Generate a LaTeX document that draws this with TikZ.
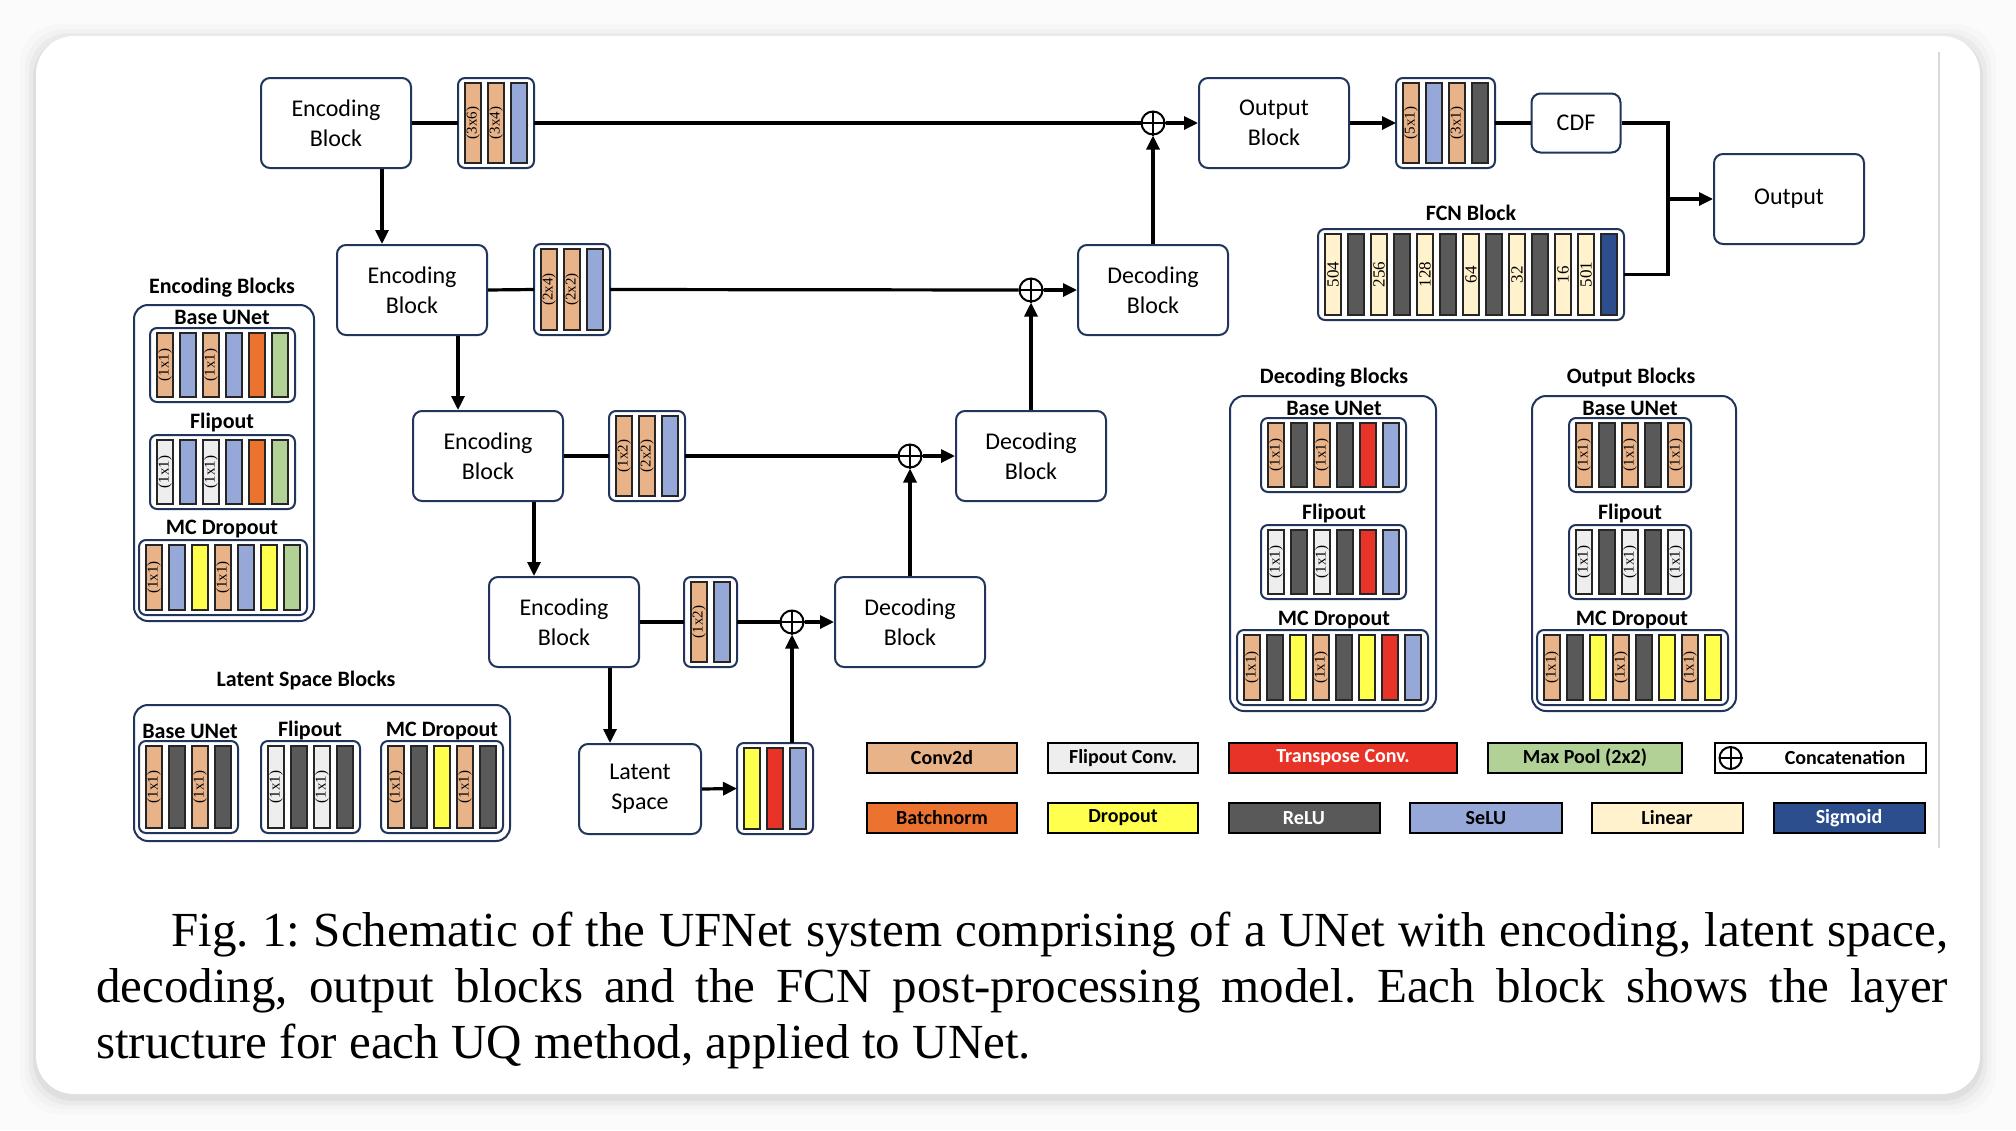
\documentclass[tikz,border=0pt]{standalone}
\usepackage{fontspec}
\setmainfont{Carlito}
\newfontfamily\barfont{Liberation Serif}
\newfontfamily\capfont{Liberation Serif}
\usepackage{tikz}
\usetikzlibrary{arrows.meta, positioning}

\definecolor{navy}{RGB}{32,52,92}
\definecolor{conv}{RGB}{233,179,138}
\definecolor{flip}{RGB}{238,238,238}
\definecolor{tconv}{RGB}{232,52,40}
\definecolor{pool}{RGB}{177,209,150}
\definecolor{bnorm}{RGB}{236,114,48}
\definecolor{drop}{RGB}{255,255,77}
\definecolor{relu}{RGB}{89,89,89}
\definecolor{selu}{RGB}{149,168,216}
\definecolor{lin}{RGB}{255,242,204}
\definecolor{sigm}{RGB}{44,78,140}

\tikzstyle{block} = [rectangle, draw=navy, line width=2pt, rounded corners=9pt, fill=white,
  align=center, minimum width=150pt, minimum height=90pt, font=\fontsize{24}{30}\selectfont]
\tikzstyle{strip} = [rectangle, draw=navy, line width=2pt, rounded corners=7pt, fill=white,
  inner sep=0pt, outer sep=0pt]
\tikzstyle{lyr} = [rectangle, draw=black!85, line width=1.2pt, minimum width=16pt, inner sep=0pt,
  font=\barfont\fontsize{15}{15}\selectfont]
\tikzstyle{legbox} = [draw=navy, line width=2pt, rounded corners=14pt]
\tikzstyle{title} = [font=\bfseries\fontsize{22}{24}\selectfont, inner sep=0pt]
\tikzstyle{swatch} = [rectangle, draw=black, line width=2pt, minimum height=30pt, inner sep=0pt,
  font=\bfseries\fontsize{20}{22}\selectfont]
\tikzstyle{concat} = [circle, draw=black, line width=2pt, fill=white, minimum size=23pt, inner sep=0pt]
\tikzstyle{arrow} = [line width=3.2pt, -{Triangle[length=14pt, width=13pt]}]
\tikzstyle{link} = [line width=3.2pt]

% layer strip: [bar options]{name}{left}{top}{height}{colour/label list}
\newcommand{\layers}[6][]{%
  \foreach \bcol/\blab [count=\bn] in {#6} {\xdef\nlyr{\bn}}
  \node[strip, anchor=north west, minimum width={23*\nlyr+7}, minimum height=#5] (#2) at (#3,#4) {};
  \foreach \bcol/\blab [count=\bi] in {#6}
    \node[lyr, #1, fill=\bcol, minimum height={#5-10}] (#2-\bi) at ({#3+23*\bi-8},{#4+#5/2}) {\rotatebox{90}{\blab}};
}

\begin{document}
\begin{tikzpicture}[x=1pt, y=-1pt]
    \useasboundingbox (0,0) rectangle (2016,1130);
    \fill[gray!3] (0,0) rectangle (2016,1130);
    \foreach \s/\o in {16/0.015, 11/0.02, 7/0.03, 3/0.045}
      \fill[black, opacity=\o, rounded corners=40pt] (36-\s,40-\s) rectangle (1980+\s,1098+\s);
    \fill[white, rounded corners=38pt] (36,36) rectangle (1980,1094);
    \draw[gray!30, line width=2pt] (1939,52) -- (1939,848);

    % UNet path
    \node[block] (eb1) at (336,123) {Encoding\\Block};
    \node[block] (eb2) at (412,290) {Encoding\\Block};
    \node[block] (eb3) at (488,456) {Encoding\\Block};
    \node[block] (eb4) at (564,622) {Encoding\\Block};
    \node[block, minimum width=122pt] (lat) at (640,789) {Latent\\Space};
    \node[block] (db1) at (1153,290) {Decoding\\Block};
    \node[block] (db2) at (1031,456) {Decoding\\Block};
    \node[block] (db3) at (910,622) {Decoding\\Block};
    \node[block] (ob) at (1274,123) {Output\\Block};
    \node[block, minimum width=89pt, minimum height=59pt] (cdf) at (1576,123) {CDF};
    \node[block] (out) at (1789,199) {Output};

    \layers{s1}{458}{78}{90}{conv/(3x6), conv/(3x4), selu/}
    \layers{s2}{534}{244}{91}{conv/(2x4), conv/(2x2), selu/}
    \layers{s3}{609}{411}{90}{conv/(1x2), conv/(2x2), selu/}
    \layers{s4}{684}{577}{90}{conv/(1x2), selu/}
    \layers{s5}{737}{743}{91}{drop/, tconv/, selu/}
    \layers{so}{1396}{78}{90}{conv/(5x1), selu/, conv/(3x1), relu/}
    \layers[font=\barfont\fontsize{17}{17}\selectfont]{fcn}{1318}{229}{91}{lin/504, relu/, lin/256, relu/, lin/128, relu/, lin/64, relu/, lin/32, relu/, lin/16, lin/501, sigm/}
    \node[title, above=8pt of fcn] (tfcn) {FCN Block};

    \node[concat] (c1) at (1153,123) {};
    \node[concat] (c2) at (1031,290) {};
    \node[concat] (c3) at (910,456) {};
    \node[concat] (c4) at (792,622) {};
    \foreach \cc in {c1,c2,c3,c4}
      \draw[line width=2pt] (\cc.north) -- (\cc.south) (\cc.west) -- (\cc.east);

    \draw[link] (eb1.east) -- (s1.west);
    \draw[link] (s1.east) -- (c1.west);
    \draw[arrow] (c1.east) -- (ob.west);
    \draw[arrow] (ob.east) -- (so.west);
    \draw[link] (so.east) -- (cdf.west);
    \coordinate (mrg) at (1668,199);
    \draw[link] (cdf.east) -| (mrg);
    \draw[link] (fcn.east) -| (mrg);
    \draw[arrow] (mrg) -- (out.west);

    \draw[link] (eb2.east) -- (s2.west);
    \draw[link] (s2.east) -- (c2.west);
    \draw[arrow] (c2.east) -- (db1.west);
    \draw[arrow] (db1.north) -- (c1.south);

    \draw[link] (eb3.east) -- (s3.west);
    \draw[link] (s3.east) -- (c3.west);
    \draw[arrow] (c3.east) -- (db2.west);
    \draw[arrow] (db2.north) -- (c2.south);

    \draw[link] (eb4.east) -- (s4.west);
    \draw[link] (s4.east) -- (c4.west);
    \draw[arrow] (c4.east) -- (db3.west);
    \draw[arrow] (db3.north) -- (c3.south);

    \draw[arrow] (lat.east) -- (s5.west);
    \draw[arrow] (c4 |- s5.north) -- (c4.south);

    \foreach \a/\b in {eb1/eb2, eb2/eb3, eb3/eb4, eb4/lat} {
      \coordinate (\a-d) at ([xshift=-30pt]\a.south east);
      \draw[arrow] (\a-d) -- (\a-d |- \b.north);
    }

    % encoding blocks
    \draw[legbox] (134,305) rectangle (314,621);
    \node[title] (tenc) at (222,288) {Encoding Blocks};
    \node[title] (tenc1) at (222,317) {Base UNet};
    \layers{le1}{150}{328}{74}{conv/(1x1), selu/, conv/(1x1), selu/, bnorm/, pool/}
    \node[title] (tenc2) at (222,423) {Flipout};
    \layers{le2}{150}{435}{74}{flip/(1x1), selu/, flip/(1x1), selu/, bnorm/, pool/}
    \node[title] (tenc3) at (222,529) {MC Dropout};
    \layers{le3}{139}{540}{75}{conv/(1x1), selu/, drop/, conv/(1x1), selu/, drop/, pool/}

    % latent space blocks
    \draw[legbox] (134,705) rectangle (510,841);
    \node[title] (tlat) at (306,681) {Latent Space Blocks};
    \node[title] (tlat1) at (190,731) {Base UNet};
    \layers{ll1}{139}{741}{92}{conv/(1x1), relu/, conv/(1x1), relu/}
    \node[title] (tlat2) at (310,731) {Flipout};
    \layers{ll2}{261}{741}{92}{flip/(1x1), relu/, flip/(1x1), relu/}
    \node[title] (tlat3) at (442,731) {MC Dropout};
    \layers{ll3}{381}{741}{92}{conv/(1x1), relu/, drop/, conv/(1x1), relu/}

    % decoding blocks
    \draw[legbox] (1230,396) rectangle (1436,711);
    \node[title] (tdec) at (1334,378) {Decoding Blocks};
    \node[title] (tdec1) at (1334,408) {Base UNet};
    \layers{ld1}{1261}{418}{74}{conv/(1x1), relu/, conv/(1x1), relu/, tconv/, selu/}
    \node[title] (tdec2) at (1334,514) {Flipout};
    \layers{ld2}{1261}{525}{74}{flip/(1x1), relu/, flip/(1x1), relu/, tconv/, selu/}
    \node[title] (tdec3) at (1334,620) {MC Dropout};
    \layers{ld3}{1237}{630}{75}{conv/(1x1), relu/, drop/, conv/(1x1), relu/, drop/, tconv/, selu/}

    % output blocks
    \draw[legbox] (1532,396) rectangle (1736,711);
    \node[title] (tout) at (1631,378) {Output Blocks};
    \node[title] (tout1) at (1630,408) {Base UNet};
    \layers{lo1}{1569}{418}{74}{conv/(1x1), relu/, conv/(1x1), relu/, conv/(1x1)}
    \node[title] (tout2) at (1630,514) {Flipout};
    \layers{lo2}{1569}{525}{74}{flip/(1x1), relu/, flip/(1x1), relu/, flip/(1x1)}
    \node[title] (tout3) at (1632,620) {MC Dropout};
    \layers{lo3}{1537}{630}{75}{conv/(1x1), relu/, drop/, conv/(1x1), relu/, drop/, conv/(1x1), drop/}

    % key
    \node[swatch, fill=conv, minimum width=150pt] (k1) at (942,758) {Conv2d};
    \node[swatch, fill=flip, minimum width=150pt] (k2) at (1123,758) {Flipout Conv.};
    \node[swatch, fill=tconv, minimum width=228pt, text=white] (k3) at (1343,758) {Transpose Conv.};
    \node[swatch, fill=pool, minimum width=194pt] (k4) at (1585,758) {Max Pool (2x2)};
    \node[swatch, fill=white, minimum width=211pt] (k5) at (1820,758) {\hspace*{50pt}Concatenation};
    \node[concat, minimum size=22pt] (k5c) at ([xshift=17pt]k5.west) {};
    \draw[line width=2pt] (k5c.north) -- (k5c.south) (k5c.west) -- (k5c.east);
    \node[swatch, fill=bnorm, minimum width=150pt] (k6) at (942,818) {Batchnorm};
    \node[swatch, fill=drop, minimum width=150pt] (k7) at (1123,818) {Dropout};
    \node[swatch, fill=relu, minimum width=151pt, text=white] (k8) at (1304,818) {ReLU};
    \node[swatch, fill=selu, minimum width=152pt] (k9) at (1486,818) {SeLU};
    \node[swatch, fill=lin, minimum width=151pt] (k10) at (1667,818) {Linear};
    \node[swatch, fill=sigm, minimum width=151pt, text=white] (k11) at (1849,818) {Sigmoid};

    % caption
    \node[anchor=north west, inner sep=0pt, text width=1852pt, align=justify,
      font=\capfont\fontsize{49}{56}\selectfont] (cap) at (96,912)
      {\frenchspacing\tolerance=10000\hspace*{75pt}Fig.~1: Schematic of the UFNet system comprising of a UNet with encoding, latent space,\linebreak
       decoding, output blocks and the FCN post-processing model. Each block shows the layer\linebreak
       structure for each UQ method, applied to UNet.};
  \end{tikzpicture}
\end{document}
